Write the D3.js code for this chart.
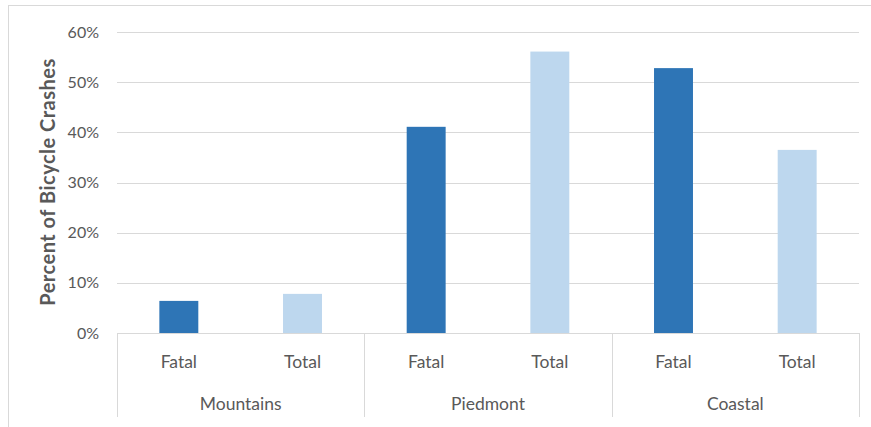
<!DOCTYPE html>
<html><head><meta charset="utf-8">
<script src="https://cdn.jsdelivr.net/npm/d3@7"></script>
<style>body{margin:0;background:#fff}svg{display:block}text{font-family:Lato,"Open Sans",sans-serif;fill:#595959}</style>
</head><body><svg id="c" width="871" height="427"></svg>
<script>
const regions = ["Mountains", "Piedmont", "Coastal"];
const types = ["Fatal", "Total"];
const fatalValues = [6.4, 41.1, 52.8];
const totalValues = [7.8, 56.1, 36.5];
const yTicks = [0, 10, 20, 30, 40, 50, 60];
const yTitle = "Percent of Bicycle Crashes";
const colors = {Fatal: "#2E75B6", Total: "#BDD7EE"};

const data = [];
regions.forEach((r, i) => {
  data.push({region: r, type: "Fatal", value: fatalValues[i]});
  data.push({region: r, type: "Total", value: totalValues[i]});
});

const svg = d3.select("#c");
const L = 117, R = 859, T = 32, B = 333;
svg.append("rect").attr("x", 8.5).attr("y", 5.5).attr("width", 870).attr("height", 440)
  .attr("fill", "#fff").attr("stroke", "#d9d9d9");

const y = d3.scaleLinear().domain([0, 60]).range([B, T]);
const x0 = d3.scaleBand().domain(regions).range([L, R]);
const x1 = d3.scaleBand().domain(types).range([0, x0.bandwidth()]).paddingInner(0.685).paddingOuter(0.3425);

// gridlines
svg.append("g").selectAll("line").data(yTicks).join("line")
  .attr("x1", L).attr("x2", R).attr("y1", d => Math.round(y(d)) + 0.5).attr("y2", d => Math.round(y(d)) + 0.5)
  .attr("stroke", "#d9d9d9").attr("stroke-width", 1);

// y axis labels
const yAxis = svg.append("g").attr("transform", `translate(${L},0)`)
  .call(d3.axisLeft(y).tickValues(yTicks).tickFormat(d => d + "%").tickSize(0).tickPadding(18));
yAxis.select(".domain").remove();
yAxis.selectAll("text").style("font-size", "16px").attr("fill", "#595959").style("font-family", "Lato,'Open Sans',sans-serif");

// bars
svg.append("g").selectAll("rect").data(data).join("rect")
  .attr("x", d => x0(d.region) + x1(d.type))
  .attr("width", x1.bandwidth())
  .attr("y", d => y(d.value))
  .attr("height", d => y(0) - y(d.value))
  .attr("fill", d => colors[d.type]);

// category axis lines
const ax = svg.append("g").attr("stroke", "#d9d9d9").attr("stroke-width", 1);
ax.append("line").attr("x1", L).attr("x2", R).attr("y1", B + 0.5).attr("y2", B + 0.5);
const bounds = regions.map(r => x0(r)).concat([R]);
ax.selectAll("line.v").data(bounds).join("line").attr("class", "v")
  .attr("x1", d => Math.round(d) + 0.5).attr("x2", d => Math.round(d) + 0.5)
  .attr("y1", B).attr("y2", 417);

// type labels
svg.append("g").selectAll("text").data(data).join("text")
  .attr("x", d => x0(d.region) + x1(d.type) + x1.bandwidth() / 2)
  .attr("y", 368).attr("text-anchor", "middle").style("font-size", "17.5px")
  .text(d => d.type);

// region labels
svg.append("g").selectAll("text").data(regions).join("text")
  .attr("x", d => x0(d) + x0.bandwidth() / 2)
  .attr("y", 410).attr("text-anchor", "middle").style("font-size", "17.5px")
  .text(d => d);

// y title
svg.append("text").attr("transform", `translate(55,182) rotate(-90)`)
  .attr("text-anchor", "middle").style("font-size", "20px").style("font-weight", "bold")
  .style("letter-spacing", "0.5px")
  .text(yTitle);
</script></body></html>
